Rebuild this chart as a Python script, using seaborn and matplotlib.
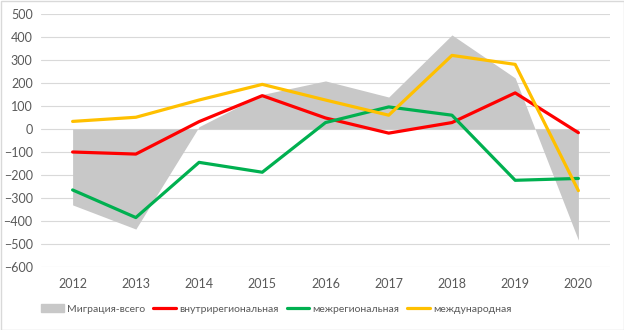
import matplotlib
matplotlib.use("Agg")
import matplotlib.pyplot as plt
import seaborn as sns
import pandas as pd
from matplotlib.patches import Patch, Rectangle
from matplotlib.lines import Line2D

years = [2012, 2013, 2014, 2015, 2016, 2017, 2018, 2019, 2020]
total = [-330, -435, 10, 150, 209, 139, 409, 222, -483]
intra = [-100, -109, 32, 145, 48, -18, 28, 157, -16]
inter = [-265, -385, -145, -188, 28, 96, 60, -223, -215]
intl = [33, 51, 126, 194, 126, 60, 320, 281, -268]

labels = ["Миграция-всего", "внутрирегиональная", "межрегиональная", "международная"]
colors = ["#c8c8c8", "#ff0000", "#00b050", "#ffc000"]

sns.set_theme(style="white")
plt.rcParams['font.family'] = ['Lato', 'DejaVu Sans']

fig = plt.figure(figsize=(6.24, 3.30), dpi=100)
ax = fig.add_axes([41/624, 1 - 267/330, (610 - 41)/624, (267 - 14)/330])

pos = list(range(len(years)))
ax.fill_between(pos, 0, total, color=colors[0], linewidth=0, zorder=1)

df = pd.DataFrame({"x": pos * 3,
                   "v": intra + inter + intl,
                   "s": [labels[1]] * 9 + [labels[2]] * 9 + [labels[3]] * 9})
sns.lineplot(data=df, x="x", y="v", hue="s", palette=dict(zip(labels[1:], colors[1:])),
             linewidth=2.3, ax=ax, legend=False, zorder=3)

ax.set_xlim(-0.5, len(years) - 0.5)
ax.set_ylim(-600, 500)
ax.set_yticks(range(-600, 501, 100))
ax.set_xticks(pos)
ax.set_xticklabels([str(y) for y in years])
ax.set_xlabel("")
ax.set_ylabel("")
ax.grid(axis="y", color="#d9d9d9", linewidth=0.8, zorder=0)
ax.set_axisbelow(True)
for s in ax.spines.values():
    s.set_visible(False)
ax.tick_params(axis="both", length=0, labelsize=9, labelcolor="#595959", pad=8)
ax.tick_params(axis="y", pad=6)

handles = [Patch(color=colors[0])] + [Line2D([0], [0], color=c, linewidth=2.3) for c in colors[1:]]
fig.legend(handles, labels, loc="center left", bbox_to_anchor=(34/624, 1 - 309/330), ncol=4,
           frameon=False, fontsize=7.5, labelcolor="#595959", handlelength=2.2,
           handletextpad=0.25, columnspacing=0.8, borderpad=0.2)

fig.add_artist(Rectangle((0.5/624, 0.5/330), 1 - 1/624, 1 - 1/330, transform=fig.transFigure,
                         fill=False, edgecolor="#d9d9d9", linewidth=1))

fig.savefig("out.png", dpi=100)
